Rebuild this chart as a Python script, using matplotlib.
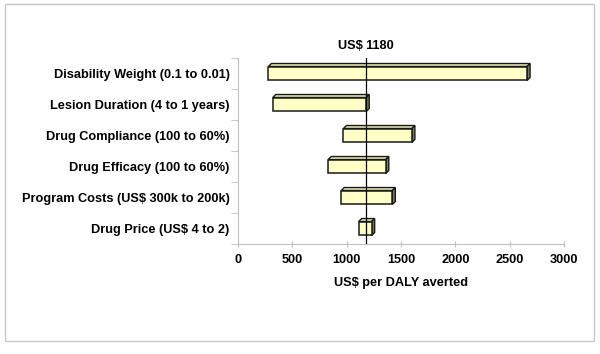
import matplotlib.pyplot as plt
from matplotlib.patches import Polygon, Rectangle

# tornado chart, one-way sensitivity analysis
categories = ['Disability Weight (0.1 to 0.01)',
              'Lesion Duration (4 to 1 years)',
              'Drug Compliance (100 to 60%)',
              'Drug Efficacy (100 to 60%)',
              'Program Costs (US$ 300k to 200k)',
              'Drug Price (US$ 4 to 2)']
low_vals = [280, 320, 970, 830, 950, 1110]
high_vals = [2660, 1180, 1600, 1360, 1420, 1230]
base_value = 1180
x_ticks = [0, 500, 1000, 1500, 2000, 2500, 3000]

plt.rcParams['font.family'] = ['Liberation Sans', 'DejaVu Sans']
plt.rcParams['font.weight'] = 'bold'

fig = plt.figure(figsize=(6.0, 3.54), dpi=100)
ax = fig.add_axes([0.3967, 0.3107, 0.5433, 0.5255])

n = len(categories)
ypos = list(range(n))[::-1]
bar_h = 0.45

ax.set_xlim(0, 3000)
ax.set_ylim(-0.5, n - 0.5)

# depth of the fake 3d bars, about 3 px each way
px_x = 3000 / (0.5433 * 600)
px_y = n / (0.5255 * 354)
dx = 3 * px_x
dy = 3 * px_y

face = '#ffffc6'
side = '#7a7a55'
edge = '#1a1a1a'
fs = 9.2

for y, lo, hi in zip(ypos, low_vals, high_vals):
    y0 = y - bar_h / 2
    y1 = y + bar_h / 2
    top = Polygon([(lo, y1), (hi, y1), (hi + dx, y1 + dy), (lo + dx, y1 + dy)],
                  closed=True, facecolor='#e6e6b4', edgecolor=edge, linewidth=1.0, zorder=2)
    rside = Polygon([(hi, y0), (hi + dx, y0 + dy), (hi + dx, y1 + dy), (hi, y1)],
                    closed=True, facecolor=side, edgecolor=edge, linewidth=1.0, zorder=2)
    front = Rectangle((lo, y0), hi - lo, bar_h, facecolor=face, edgecolor=edge,
                      linewidth=1.1, zorder=3)
    ax.add_patch(top)
    ax.add_patch(rside)
    ax.add_patch(front)

ax.axvline(base_value, color='black', linewidth=0.9, zorder=4)
ax.text(base_value, n - 0.5 + 0.18, 'US$ ' + str(base_value), ha='center', va='bottom',
        fontsize=fs, fontweight='bold')

ax.set_yticks(ypos)
ax.set_yticklabels(categories, fontsize=fs, fontweight='bold')
ax.set_yticks([i - 0.5 for i in range(n + 1)], minor=True)
ax.tick_params(axis='y', which='major', length=0, pad=6)
ax.tick_params(axis='y', which='minor', length=5, color='#c0c0c0', direction='out')

ax.set_xticks(x_ticks)
ax.set_xticklabels([str(t) for t in x_ticks], fontsize=fs, fontweight='bold')
ax.tick_params(axis='x', length=4, color='#c0c0c0', direction='inout', pad=5)
ax.set_xlabel('US$ per DALY averted', fontsize=fs, fontweight='bold', labelpad=8)

for s in ['top', 'right']:
    ax.spines[s].set_visible(False)
for s in ['left', 'bottom']:
    ax.spines[s].set_color('#c0c0c0')
    ax.spines[s].set_linewidth(0.8)

# light frame round the whole chart
fig.patches.append(Rectangle((5 / 600, 1 - 341 / 354), 589 / 600, 337 / 354,
                             transform=fig.transFigure, fill=False,
                             edgecolor='#c8c8c8', linewidth=1.0))

fig.savefig('out.png', dpi=100)
